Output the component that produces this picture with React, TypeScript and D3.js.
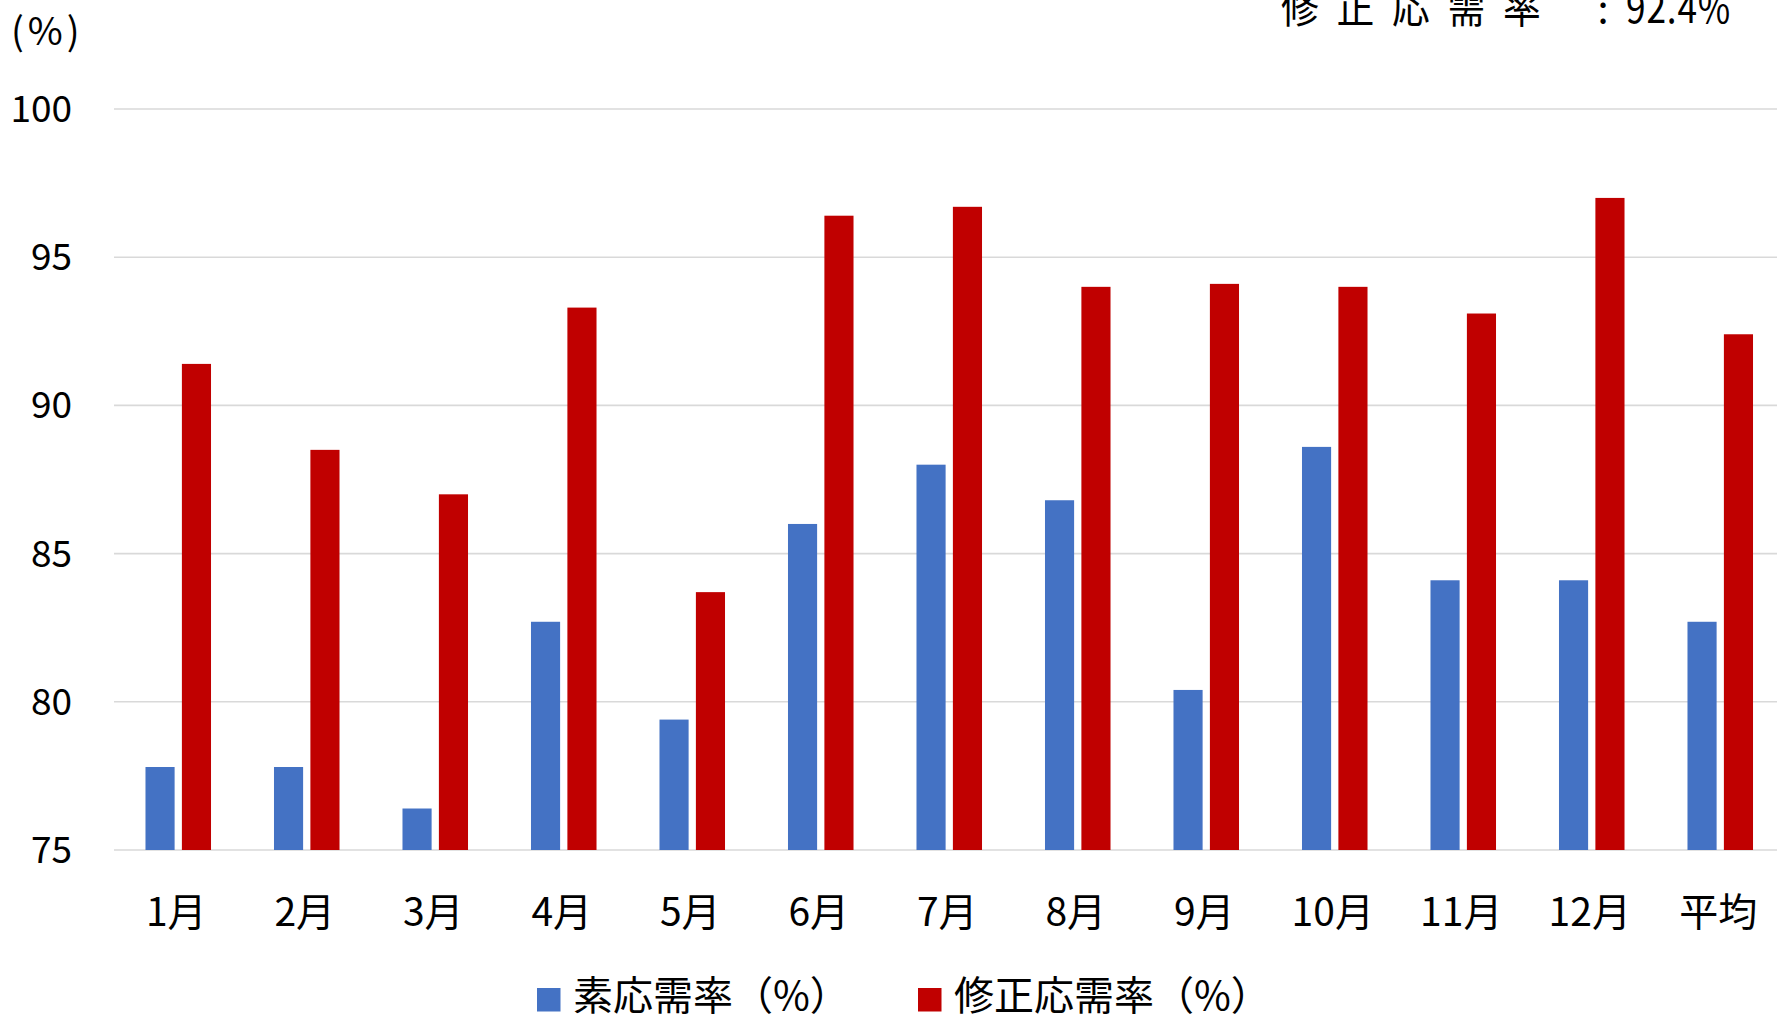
import * as d3 from 'd3';
import React, { useEffect, useRef } from 'react';

const months = ['1月', '2月', '3月', '4月', '5月', '6月', '7月', '8月', '9月', '10月', '11月', '12月', '平均'];
const rawRate = [77.8, 77.8, 76.4, 82.7, 79.4, 86.0, 88.0, 86.8, 80.4, 88.6, 84.1, 84.1, 82.7];
const adjustedRate = [91.4, 88.5, 87.0, 93.3, 83.7, 96.4, 96.7, 94.0, 94.1, 94.0, 93.1, 97.0, 92.4];
const yTicks = [75, 80, 85, 90, 95, 100];
const seriesNames = ['素応需率（%）', '修正応需率（%）'];
const seriesColors = ['#4472C4', '#C00000'];

const W = 1777;
const H = 1018;
const FONT = "'Noto Sans CJK JP', 'Noto Sans', sans-serif";

const Chart = () => {
  const ref = useRef<any>(null);

  useEffect(() => {
    const svg = d3.select(ref.current);
    svg.selectAll('*').remove();

    const x0 = d3
      .scaleBand()
      .domain(months)
      .range([114, 114 + 13 * 128.5])
      .paddingInner(0.49)
      .paddingOuter(0.245);

    const x1 = d3
      .scaleBand()
      .domain(['raw', 'adj'])
      .range([0, x0.bandwidth()])
      .paddingInner(0.2);

    const y = d3.scaleLinear().domain([75, 100]).range([850, 109]);

    // grid lines
    svg
      .append('g')
      .selectAll('line')
      .data(yTicks)
      .join('line')
      .attr('x1', 114)
      .attr('x2', W)
      .attr('y1', (d: number) => y(d))
      .attr('y2', (d: number) => y(d))
      .attr('stroke', '#D9D9D9')
      .attr('stroke-width', 1.6);

    // y tick labels
    svg
      .append('g')
      .selectAll('text')
      .data(yTicks)
      .join('text')
      .attr('x', 72)
      .attr('y', (d: number) => y(d) + 13)
      .attr('text-anchor', 'end')
      .style('font-family', FONT)
      .style('font-size', '37px')
      .style('fill', '#000')
      .text((d: number) => d);

    const rows = months.map((m, i) => ({ m, raw: rawRate[i], adj: adjustedRate[i] }));

    const groups = svg
      .append('g')
      .selectAll('g')
      .data(rows)
      .join('g')
      .attr('transform', (d: any) => `translate(${x0(d.m)},0)`);

    groups
      .selectAll('rect')
      .data((d: any) => [
        { key: 'raw', v: d.raw, c: seriesColors[0] },
        { key: 'adj', v: d.adj, c: seriesColors[1] },
      ])
      .join('rect')
      .attr('x', (d: any) => x1(d.key))
      .attr('y', (d: any) => y(d.v))
      .attr('width', x1.bandwidth())
      .attr('height', (d: any) => y(75) - y(d.v))
      .attr('fill', (d: any) => d.c);

    // x labels
    svg
      .append('g')
      .selectAll('text')
      .data(months)
      .join('text')
      .attr('x', (d: string) => (x0(d) as number) + x0.bandwidth() / 2 - 2)
      .attr('y', 926)
      .attr('text-anchor', 'middle')
      .style('font-family', FONT)
      .style('font-size', '39px')
      .style('fill', '#000')
      .text((d: string) => d);

    // unit label
    svg
      .append('text')
      .attr('x', 11)
      .attr('y', 45)
      .style('font-family', FONT)
      .style('font-size', '38px')
      .style('letter-spacing', '4px')
      .text('(%)');

    // top right annotation (partly cut at the top, as in the source)
    svg
      .append('text')
      .attr('transform', 'translate(1281,23) scale(0.9,1)')
      .style('font-family', FONT)
      .style('font-size', '42px')
      .style('letter-spacing', '19.7px')
      .text('修正応需率');
    svg
      .append('text')
      .attr('x', 1603)
      .attr('y', 23)
      .attr('text-anchor', 'middle')
      .style('font-family', FONT)
      .style('font-size', '40px')
      .text(':');
    svg
      .append('text')
      .attr('transform', 'translate(1626,23) scale(0.84,1)')
      .style('font-family', FONT)
      .style('font-size', '42px')
      .style('letter-spacing', '1px')
      .text('92.4%');

    // legend
    const legendX = [537, 918];
    const legend = svg
      .append('g')
      .selectAll('g')
      .data(seriesNames)
      .join('g')
      .attr('transform', (_: any, i: number) => `translate(${legendX[i]},0)`);
    legend
      .append('rect')
      .attr('x', 0)
      .attr('y', 988)
      .attr('width', 23.5)
      .attr('height', 23.5)
      .attr('fill', (_: any, i: number) => seriesColors[i]);
    legend
      .append('text')
      .attr('x', 36)
      .attr('y', 1010)
      .style('font-family', FONT)
      .style('font-size', '40px')
      .style('fill', '#000')
      .text((d: string) => d);
  }, []);

  return <svg ref={ref} width={W} height={H} style={{ display: 'block', background: '#fff' }} />;
};

export default function App() {
  useEffect(() => {
    document.body.style.margin = '0';
    document.body.style.overflow = 'hidden';
  }, []);
  return <Chart />;
}
